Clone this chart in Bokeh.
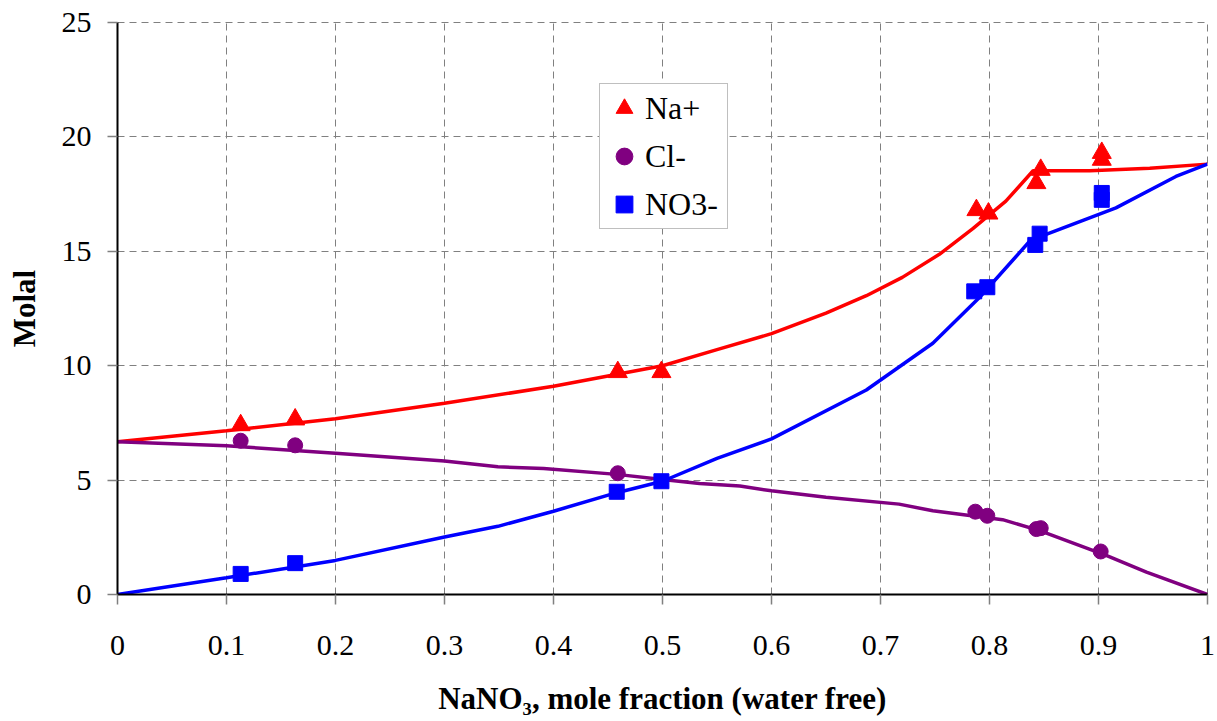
from bokeh.plotting import figure
from bokeh.models import Range1d, FixedTicker, Legend, LegendItem, NumeralTickFormatter
from bokeh.embed import file_html
from bokeh.resources import INLINE

# ---- data ----
x_ticks = [0, 0.1, 0.2, 0.3, 0.4, 0.5, 0.6, 0.7, 0.8, 0.9, 1.0]
y_ticks = [0, 5, 10, 15, 20, 25]
series_names = ["Na+", "Cl-", "NO3-"]

# experimental points
na_x = [0.113, 0.163, 0.459, 0.499, 0.788, 0.799, 0.843, 0.847, 0.903, 0.903]
na_y = [7.4, 7.65, 9.72, 9.72, 16.8, 16.65, 17.98, 18.56, 19.0, 19.3]

cl_x = [0.113, 0.163, 0.459, 0.787, 0.798, 0.843, 0.847, 0.902]
cl_y = [6.72, 6.52, 5.3, 3.62, 3.44, 2.86, 2.9, 1.88]

no3_x = [0.113, 0.163, 0.458, 0.499, 0.786, 0.798, 0.842, 0.846, 0.903, 0.903]
no3_y = [0.9, 1.37, 4.49, 4.95, 13.25, 13.43, 15.28, 15.77, 17.25, 17.55]

# model curves
na_line_x = [0, 0.1, 0.2, 0.3, 0.4, 0.5, 0.55, 0.6, 0.65, 0.687, 0.72, 0.754, 0.785, 0.815, 0.84, 0.892, 0.947, 1.0]
na_line_y = [6.68, 7.16, 7.68, 8.36, 9.1, 10.0, 10.7, 11.4, 12.3, 13.06, 13.86, 14.87, 16.0, 17.19, 18.52, 18.52, 18.63, 18.81]

cl_line_x = [0, 0.1, 0.2, 0.3, 0.349, 0.391, 0.458, 0.5, 0.534, 0.571, 0.6, 0.65, 0.717, 0.748, 0.812, 0.846, 0.907, 0.944, 1.0]
cl_line_y = [6.68, 6.5, 6.17, 5.83, 5.58, 5.51, 5.25, 5.03, 4.85, 4.74, 4.53, 4.25, 3.95, 3.66, 3.27, 2.79, 1.71, 0.98, 0.0]

no3_line_x = [0, 0.1, 0.2, 0.3, 0.349, 0.4, 0.458, 0.5, 0.55, 0.6, 0.687, 0.748, 0.791, 0.837, 0.852, 0.916, 0.971, 1.0]
no3_line_y = [0, 0.73, 1.49, 2.51, 2.98, 3.64, 4.45, 4.95, 5.95, 6.8, 8.94, 10.98, 12.99, 15.45, 15.74, 16.9, 18.27, 18.81]

FONT = "Liberation Serif, Times New Roman, serif"
RED = "#FF0000"
PURPLE = "#800080"
BLUE = "#0000FF"

p = figure(width=1215, height=718, output_backend="svg", toolbar_location=None,
           x_range=Range1d(0, 1), y_range=Range1d(0, 25),
           min_border_left=117, min_border_right=8, min_border_top=22, min_border_bottom=122)
p.background_fill_color = "white"
p.border_fill_color = "white"
p.outline_line_color = "#808080"
p.outline_line_dash = "7 5"
p.outline_line_width = 1

# lines
p.line(na_line_x, na_line_y, line_color=RED, line_width=3.5)
p.line(cl_line_x, cl_line_y, line_color=PURPLE, line_width=3.5)
p.line(no3_line_x, no3_line_y, line_color=BLUE, line_width=3.5)

# markers
r_na = p.scatter(na_x, na_y, marker="triangle", size=19, fill_color=RED, line_color=RED)
r_cl = p.scatter(cl_x, cl_y, marker="circle", size=15, fill_color=PURPLE, line_color=PURPLE)
r_no3 = p.scatter(no3_x, no3_y, marker="square", size=15, fill_color=BLUE, line_color=BLUE)

legend = Legend(items=[LegendItem(label=series_names[0], renderers=[r_na]),
                       LegendItem(label=series_names[1], renderers=[r_cl]),
                       LegendItem(label=series_names[2], renderers=[r_no3])],
                location=(482, 365))
legend.label_text_font = FONT
legend.label_text_font_size = "32px"
legend.label_text_color = "black"
legend.glyph_width = 42
legend.glyph_height = 42
legend.label_height = 42
legend.label_width = 79
legend.label_standoff = -2
legend.spacing = 6
legend.padding = 3
legend.margin = 0
legend.border_line_color = "#808080"
legend.border_line_width = 1.5
legend.background_fill_color = "white"
legend.background_fill_alpha = 1
p.add_layout(legend)

# axes
p.xaxis.ticker = FixedTicker(ticks=x_ticks)
p.xaxis.formatter = NumeralTickFormatter(format="0.[0]")
p.yaxis.ticker = FixedTicker(ticks=y_ticks)

for ax in (p.xaxis, p.yaxis):
    ax.axis_line_color = "black"
    ax.axis_line_width = 2
    ax.major_tick_line_color = "#808080"
    ax.major_tick_line_width = 1.5
    ax.major_tick_in = 0
    ax.major_tick_out = 10
    ax.minor_tick_line_color = None
    ax.major_label_text_font = FONT
    ax.major_label_text_font_size = "30px"
    ax.major_label_text_color = "black"
    ax.axis_label_text_font = FONT
    ax.axis_label_text_font_size = "31px"
    ax.axis_label_text_font_style = "bold"
    ax.axis_label_text_color = "black"

p.xaxis.axis_label = "NaNO\u2083, mole fraction (water free)"
p.yaxis.axis_label = "Molal"
p.xaxis.major_label_standoff = 31
p.yaxis.major_label_standoff = 16
p.xaxis.axis_label_standoff = 23
p.yaxis.axis_label_standoff = 17

p.xgrid.grid_line_color = "#808080"
p.xgrid.grid_line_dash = "7 5"
p.xgrid.grid_line_width = 1
p.ygrid.grid_line_color = "#808080"
p.ygrid.grid_line_dash = "7 5"
p.ygrid.grid_line_width = 1

open("out.html", "w").write(file_html(p, INLINE))
